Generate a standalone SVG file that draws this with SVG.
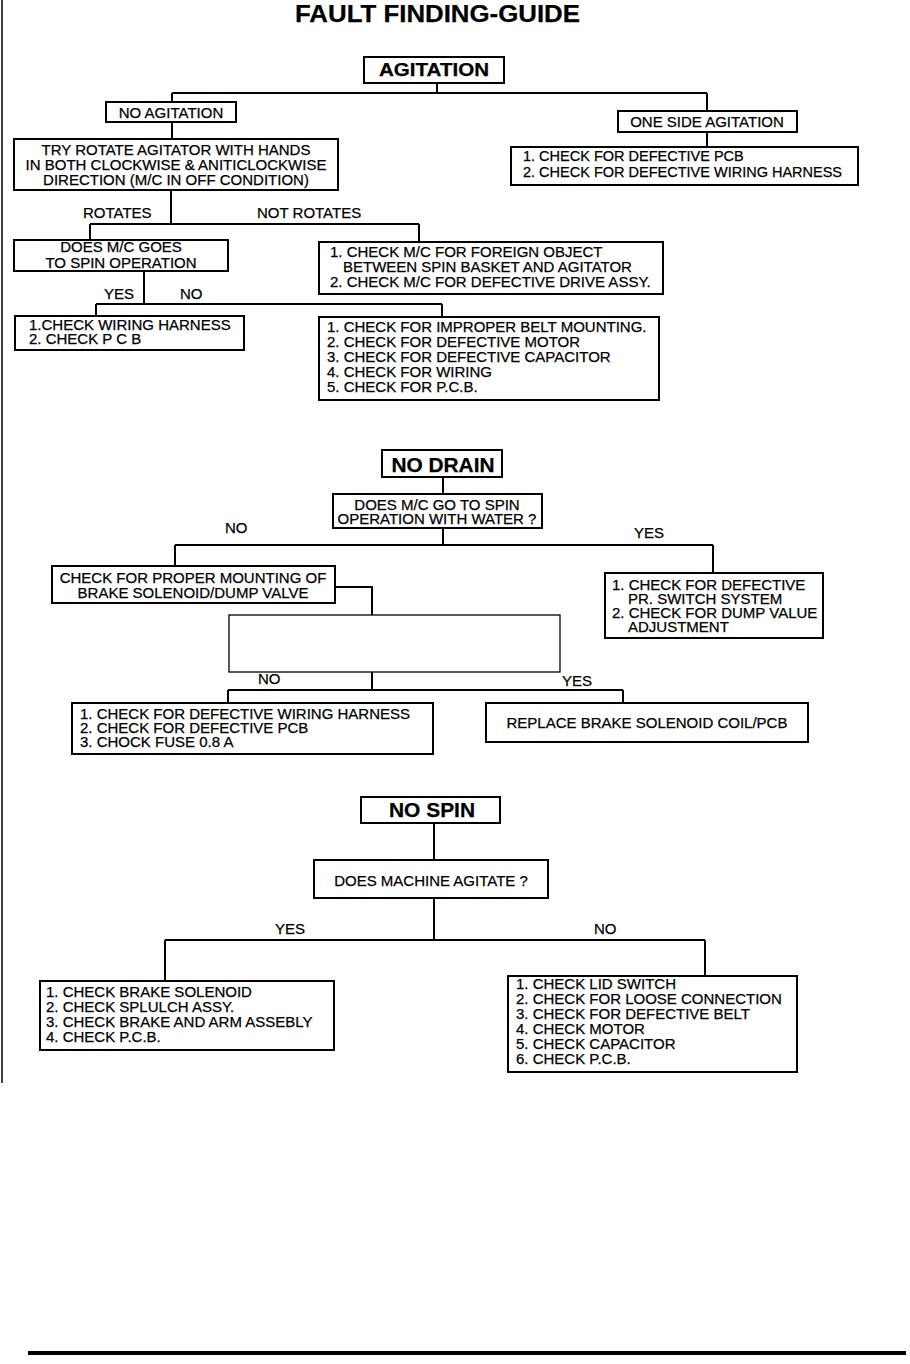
<svg xmlns="http://www.w3.org/2000/svg" width="910" height="1364" viewBox="0 0 910 1364">
<style>
text{font-family:"Liberation Sans",Arial,Helvetica,sans-serif;fill:#000;stroke:#000;stroke-width:0.25}
.t{font-size:15px}
.s{font-size:14.5px}
.c{text-anchor:middle}
.h{font-weight:bold;text-anchor:middle}
.b{fill:#fff;stroke:#000;stroke-width:2}
.thin{fill:#fff;stroke:#000;stroke-width:1.3}
.w{fill:none;stroke:#000;stroke-width:2}
</style>
<rect width="910" height="1364" fill="#fff"/>
<line x1="2" y1="0" x2="2" y2="1083" stroke="#000" stroke-width="1.5"/>
<rect x="28" y="1351" width="878" height="4" fill="#000"/>
<text class="h" x="437.5" y="22" font-size="23.5" textLength="285" lengthAdjust="spacingAndGlyphs">FAULT FINDING-GUIDE</text>

<g id="connectors">
<path class="w" d="M437 83V93M172 93H707M172 93V102M707 93V111M172 122V139M707 132V147"/>
<path class="w" d="M171 190V224M90 224H419M90 224V240M419 224V242"/>
<path class="w" d="M144 271V304M96 304H442M96 304V316M442 304V317"/>
<path class="w" d="M443 477V494M443 528V545M175 545H713M175 545V566M713 545V573"/>
<path class="w" d="M335 587H372V615M372 672V690M228 690H623M228 690V703M623 690V703"/>
<path class="w" d="M434 823V860M434 898V940M165 940H705M165 940V981M705 940V976"/>
</g>

<g id="lbl-rotates"><text class="t" x="83" y="218">ROTATES</text></g>
<g id="lbl-notrotates"><text class="t" x="257" y="218">NOT ROTATES</text></g>
<g id="lbl-yes1"><text class="t" x="104" y="299">YES</text></g>
<g id="lbl-no1"><text class="t" x="180" y="299">NO</text></g>
<g id="lbl-no2"><text class="t" x="225" y="533">NO</text></g>
<g id="lbl-yes2"><text class="t" x="634" y="538">YES</text></g>
<g id="lbl-no3"><text class="t" x="258" y="684">NO</text></g>
<g id="lbl-yes3"><text class="t" x="562" y="686">YES</text></g>
<g id="lbl-yes4"><text class="t" x="275" y="934">YES</text></g>
<g id="lbl-no4"><text class="t" x="594" y="934">NO</text></g>

<g id="agitation">
<rect class="b" x="364" y="57" width="140" height="26"/>
<text class="h" x="434" y="76" font-size="18" textLength="110" lengthAdjust="spacingAndGlyphs">AGITATION</text>
</g>
<g id="no-agitation">
<rect class="b" x="106" y="102" width="130" height="20"/>
<text class="t c" x="171" y="118">NO AGITATION</text>
</g>
<g id="one-side">
<rect class="b" x="618" y="111" width="179" height="21"/>
<text class="t c" x="707" y="127">ONE SIDE AGITATION</text>
</g>
<g id="check-pcb-harness">
<rect class="b" x="511" y="147" width="347" height="38"/>
<text class="s" x="523" y="161">1. CHECK FOR DEFECTIVE PCB</text>
<text class="s" x="523" y="177">2. CHECK FOR DEFECTIVE WIRING HARNESS</text>
</g>
<g id="try-rotate">
<rect class="b" x="14" y="139" width="324" height="51"/>
<text class="t c" x="176" y="155">TRY ROTATE AGITATOR WITH HANDS</text>
<text class="t c" x="176" y="170">IN BOTH CLOCKWISE &amp; ANITICLOCKWISE</text>
<text class="t c" x="176" y="185">DIRECTION (M/C IN OFF CONDITION)</text>
</g>
<g id="does-spin">
<rect class="b" x="14" y="240" width="214" height="31"/>
<text class="t c" x="121" y="252">DOES M/C GOES</text>
<text class="t c" x="121" y="268">TO SPIN OPERATION</text>
</g>
<g id="foreign-object">
<rect class="b" x="319" y="242" width="344" height="52"/>
<text class="t" x="330" y="257">1. CHECK M/C FOR FOREIGN OBJECT</text>
<text class="t" x="343" y="272">BETWEEN SPIN BASKET AND AGITATOR</text>
<text class="t" x="330" y="287">2. CHECK M/C FOR DEFECTIVE DRIVE ASSY.</text>
</g>
<g id="wiring-pcb">
<rect class="b" x="15" y="316" width="229" height="34"/>
<text class="t" x="29" y="330">1.CHECK WIRING HARNESS</text>
<text class="t" x="29" y="344">2. CHECK P C B</text>
</g>
<g id="belt-motor">
<rect class="b" x="319" y="317" width="340" height="83"/>
<text class="t" x="327" y="332">1. CHECK FOR IMPROPER BELT MOUNTING.</text>
<text class="t" x="327" y="347">2. CHECK FOR DEFECTIVE MOTOR</text>
<text class="t" x="327" y="362">3. CHECK FOR DEFECTIVE CAPACITOR</text>
<text class="t" x="327" y="377">4. CHECK FOR WIRING</text>
<text class="t" x="327" y="392">5. CHECK FOR P.C.B.</text>
</g>

<g id="no-drain">
<rect class="b" x="382" y="450" width="120" height="27"/>
<text class="h" x="443" y="472" font-size="20" textLength="103" lengthAdjust="spacingAndGlyphs">NO DRAIN</text>
</g>
<g id="spin-with-water">
<rect class="b" x="333" y="494" width="209" height="34"/>
<text class="t c" x="437" y="510">DOES M/C GO TO SPIN</text>
<text class="t c" x="437" y="524">OPERATION WITH WATER ?</text>
</g>
<g id="proper-mounting">
<rect class="b" x="52" y="566" width="283" height="37"/>
<text class="t c" x="193" y="583">CHECK FOR PROPER MOUNTING OF</text>
<text class="t c" x="193" y="598">BRAKE SOLENOID/DUMP VALVE</text>
</g>
<g id="pr-switch">
<rect class="b" x="605" y="573" width="218" height="65"/>
<text class="t" x="612" y="590">1. CHECK FOR DEFECTIVE</text>
<text class="t" x="628" y="604">PR. SWITCH SYSTEM</text>
<text class="t" x="612" y="618">2. CHECK FOR DUMP VALUE</text>
<text class="t" x="628" y="632">ADJUSTMENT</text>
</g>
<g id="blank-box">
<rect class="thin" x="229" y="615" width="331" height="57"/>
</g>
<g id="wiring-fuse">
<rect class="b" x="72" y="703" width="361" height="51"/>
<text class="t" x="80" y="719">1. CHECK FOR DEFECTIVE WIRING HARNESS</text>
<text class="t" x="80" y="733">2. CHECK FOR DEFECTIVE PCB</text>
<text class="t" x="80" y="747">3. CHOCK FUSE 0.8 A</text>
</g>
<g id="replace-coil">
<rect class="b" x="486" y="703" width="322" height="39"/>
<text class="t c" x="647" y="728">REPLACE BRAKE SOLENOID COIL/PCB</text>
</g>

<g id="no-spin">
<rect class="b" x="361" y="797" width="139" height="26"/>
<text class="h" x="432" y="817" font-size="20" textLength="86" lengthAdjust="spacingAndGlyphs">NO SPIN</text>
</g>
<g id="machine-agitate">
<rect class="b" x="314" y="860" width="234" height="38"/>
<text class="t c" x="431" y="886">DOES MACHINE AGITATE ?</text>
</g>
<g id="brake-checks">
<rect class="b" x="40" y="981" width="294" height="69"/>
<text class="t" x="46" y="997">1. CHECK BRAKE SOLENOID</text>
<text class="t" x="46" y="1012">2. CHECK SPLULCH ASSY.</text>
<text class="t" x="46" y="1027">3. CHECK BRAKE AND ARM ASSEBLY</text>
<text class="t" x="46" y="1042">4. CHECK P.C.B.</text>
</g>
<g id="lid-checks">
<rect class="b" x="508" y="976" width="289" height="96"/>
<text class="t" x="516" y="989">1. CHECK LID SWITCH</text>
<text class="t" x="516" y="1004">2. CHECK FOR LOOSE CONNECTION</text>
<text class="t" x="516" y="1019">3. CHECK FOR DEFECTIVE BELT</text>
<text class="t" x="516" y="1034">4. CHECK MOTOR</text>
<text class="t" x="516" y="1049">5. CHECK CAPACITOR</text>
<text class="t" x="516" y="1064">6. CHECK P.C.B.</text>
</g>
</svg>
